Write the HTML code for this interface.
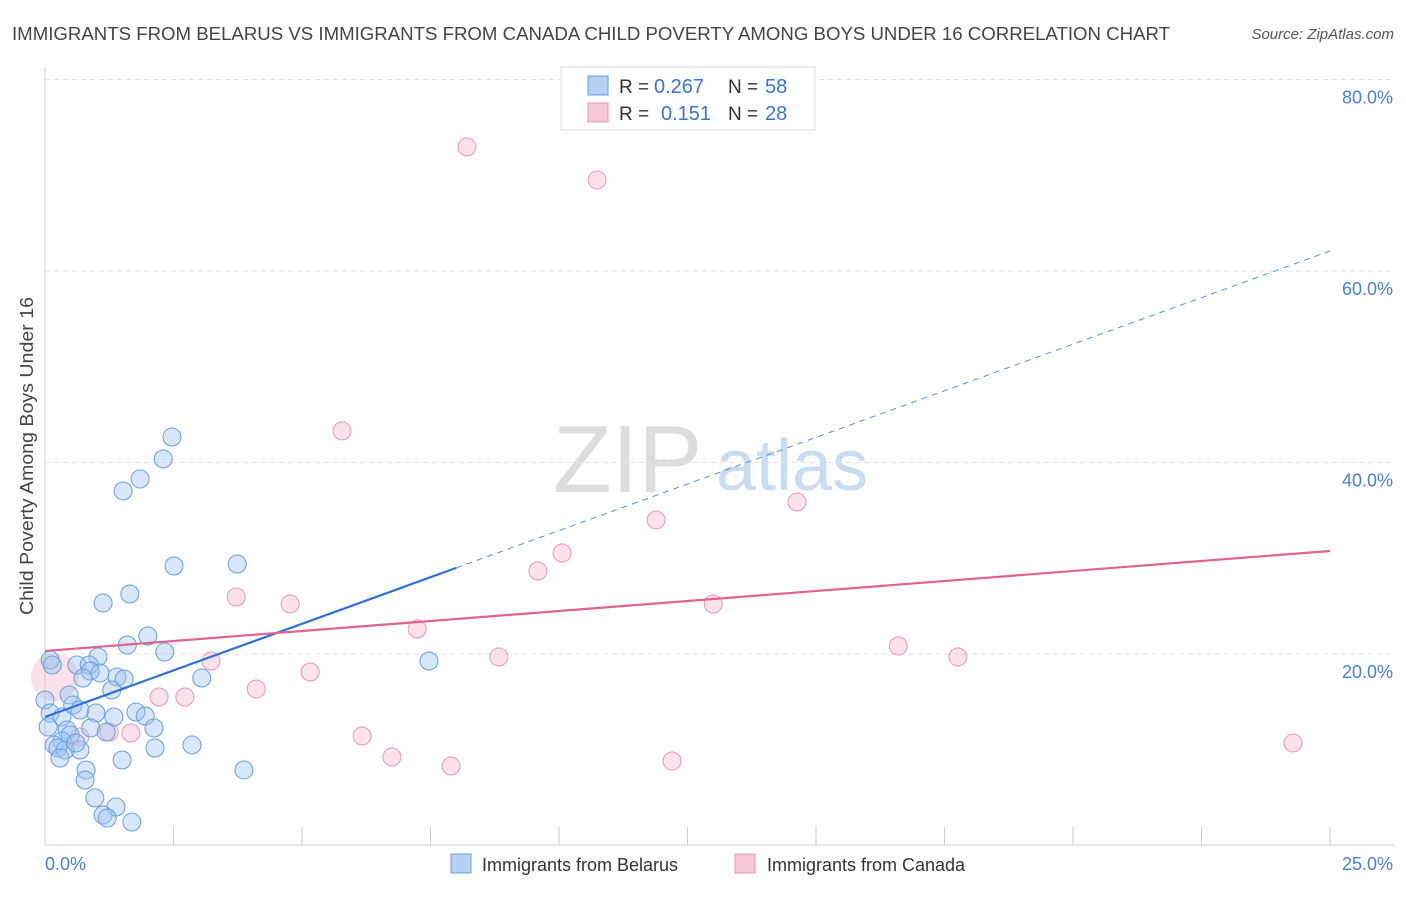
<!DOCTYPE html>
<html><head><meta charset="utf-8"><style>
body{margin:0;background:#fff;font-family:"Liberation Sans",sans-serif;}
svg text{font-family:"Liberation Sans",sans-serif;}
</style></head><body>
<svg id="chart" width="1406" height="892" viewBox="0 0 1406 892" xmlns="http://www.w3.org/2000/svg">
<text x="12" y="40" font-size="18" fill="#444" textLength="1158" lengthAdjust="spacingAndGlyphs">IMMIGRANTS FROM BELARUS VS IMMIGRANTS FROM CANADA CHILD POVERTY AMONG BOYS UNDER 16 CORRELATION CHART</text>
<text x="1394" y="39" font-size="15" fill="#555" text-anchor="end" font-style="italic">Source: ZipAtlas.com</text>
<g>
<text x="553" y="492" font-size="96" fill="#ddd" font-family="Liberation Serif, serif">ZIP</text>
<text x="716" y="490" font-size="72" fill="#c9dcf2">atlas</text>
</g>
<g id="grid"></g>
<line x1="45" y1="68" x2="45" y2="845" stroke="#ccc"/>
<line x1="45" y1="845" x2="1394" y2="845" stroke="#ccc"/>
<g id="xticks"></g>
<text transform="translate(33,456) rotate(-90)" font-size="18" fill="#444" text-anchor="middle" textLength="318" lengthAdjust="spacingAndGlyphs">Child Poverty Among Boys Under 16</text>
<text x="45" y="870" font-size="18" fill="#4a7fd4">0.0%</text>
<text x="1393" y="870" font-size="18" fill="#4a7fd4" text-anchor="end">25.0%</text>
<g id="pts"></g>
<g id="lines"></g>
<g>
<rect x="561" y="67" width="254" height="63" fill="#fff" stroke="#ddd"/>
<rect x="588" y="76" width="20" height="19" fill="#b5d0f3" stroke="#6a9ee0"/>
<rect x="588" y="103" width="20" height="19" fill="#f9c6d6" stroke="#e89ab3"/>
<text x="619" y="93" font-size="19" fill="#333">R =</text>
<text x="654" y="93" font-size="20" fill="#3a74d0">0.267</text>
<text x="728" y="93" font-size="19" fill="#333">N =</text>
<text x="765" y="93" font-size="20" fill="#3a74d0">58</text>
<text x="619" y="120" font-size="19" fill="#333">R =</text>
<text x="661" y="120" font-size="20" fill="#3a74d0">0.151</text>
<text x="728" y="120" font-size="19" fill="#333">N =</text>
<text x="765" y="120" font-size="20" fill="#3a74d0">28</text>
</g>
<g>
<rect x="451" y="854" width="20" height="19" fill="#b5d0f3" stroke="#6a9ee0"/>
<text x="482" y="871" font-size="18" fill="#333">Immigrants from Belarus</text>
<rect x="735" y="854" width="20" height="19" fill="#f9c6d6" stroke="#e89ab3"/>
<text x="767" y="871" font-size="18" fill="#333">Immigrants from Canada</text>
</g>
</svg>
<script>
const yTicks=[20,40,60,80];
const xTickCount=10;
const belarusX=[2.47,2.30,1.85,1.52,3.74,2.51,1.13,1.65,2.00,1.60,2.33,0.10,1.03,0.62,0.86,0.88,1.07,0.74,1.40,1.54,3.05,1.30,0.47,0.0,0.54,0.68,0.99,1.34,1.77,1.95,0.10,0.33,0.06,0.43,0.89,2.12,0.49,1.19,0.33,0.18,0.25,0.68,0.39,2.86,2.14,0.29,1.50,0.80,0.78,3.87,7.47,0.97,1.38,1.13,1.21,1.69,0.14,0.60];
const belarusY=[42.66,40.37,38.28,37.03,29.40,29.19,25.33,26.27,21.88,20.94,20.21,19.37,19.69,18.85,18.85,18.22,18.02,17.49,17.60,17.39,17.49,16.24,15.72,15.20,14.67,14.15,13.84,13.42,13.94,13.52,13.84,13.42,12.38,12.06,12.27,12.27,11.54,11.85,10.91,10.50,10.18,9.97,9.97,10.50,10.18,9.14,8.93,7.89,6.84,7.89,19.27,4.97,4.02,3.19,2.87,2.45,18.85,10.71];
const canadaX=[8.21,10.74,5.78,11.89,14.63,10.06,9.59,13.00,3.72,4.77,7.24,8.83,3.23,5.16,16.60,17.76,4.11,2.22,2.72,6.17,1.67,1.25,6.75,7.90,12.20,24.28,0.19,0.68];
const canadaY=[72.96,69.51,43.30,34.00,35.88,30.55,28.67,25.22,25.95,25.22,22.61,19.69,19.27,18.12,20.84,19.69,16.35,15.51,15.51,11.44,11.75,11.85,9.24,8.30,8.83,10.71,17.60,11.33];
const belarusTrend=[13.42,62.09];
const canadaTrend=[20.31,30.76];
const belarusSolidEnd=8.0;
const NS="http://www.w3.org/2000/svg";
const sx=v=>45+v/25*1285;
const sy=v=>845.5-v/20*191.5;
function mk(tag,attrs,parent){const e=document.createElementNS(NS,tag);for(const k in attrs)e.setAttribute(k,attrs[k]);parent.appendChild(e);return e;}
const grid=document.getElementById('grid');
yTicks.forEach(t=>{
 const l=mk('line',{x1:45,x2:1394,y1:sy(t),y2:sy(t),stroke:'#e3e3e3','stroke-dasharray':'5,4'},grid);
 
 
 const tx=mk('text',{x:1393,y:sy(t)+24,'font-size':18,fill:'#4a7fd4','text-anchor':'end'},grid);
 tx.textContent=t.toFixed(1)+'%';
 
 
});
const xt=document.getElementById('xticks');
for(let i=1;i<=xTickCount;i++){
 const l=mk('line',{x1:sx(i*2.5),x2:sx(i*2.5),y1:827,y2:845,stroke:'#ccc'},xt);
 
 
}
const pts=document.getElementById('pts');
canadaX.forEach((x,i)=>{
 const big=(i===26);
 const c=mk('circle',{cx:sx(x),cy:sy(canadaY[i]),r:big?24:9,fill:'rgba(246,180,203,0.4)',stroke:big?'none':'#e89ab3','stroke-width':1},pts);
 
 
});
belarusX.forEach((x,i)=>{
 const c=mk('circle',{cx:sx(x),cy:sy(belarusY[i]),r:9,fill:'rgba(160,196,240,0.42)',stroke:'#6a9ee0','stroke-width':1},pts);
 
 
});
const lines=document.getElementById('lines');
const by=x=>belarusTrend[0]+(belarusTrend[1]-belarusTrend[0])*x/25;
let l1=mk('line',{x1:sx(0),y1:sy(by(0)),x2:sx(belarusSolidEnd),y2:sy(by(belarusSolidEnd)),stroke:'#2f6fd8','stroke-width':2.2},lines);


let l2=mk('line',{x1:sx(belarusSolidEnd),y1:sy(by(belarusSolidEnd)),x2:sx(25),y2:sy(by(25)),stroke:'#5b8fe0','stroke-width':1,'stroke-dasharray':'6,5'},lines);


let l3=mk('line',{x1:sx(0),y1:sy(canadaTrend[0]),x2:sx(25),y2:sy(canadaTrend[1]),stroke:'#e0648f','stroke-width':2.2},lines);


</script>
</body></html>
